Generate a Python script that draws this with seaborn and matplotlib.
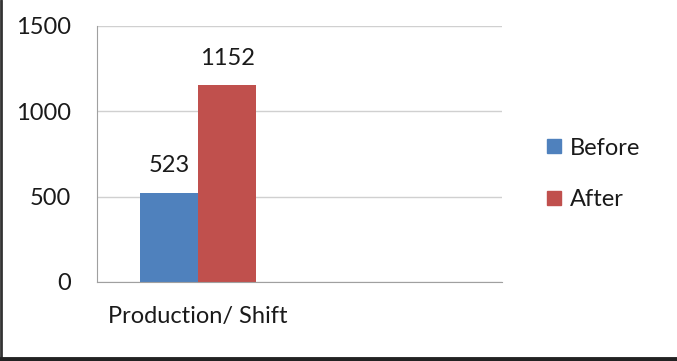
import matplotlib
matplotlib.use("Agg")
import matplotlib.pyplot as plt
import seaborn as sns
import pandas as pd
from matplotlib.lines import Line2D

categories = ["Production/ Shift", ""]
series = ["Before", "After"]
before_values = [523, None]
after_values = [1152, None]
colors = ["#4F81BD", "#C0504D"]
yticks = [0, 500, 1000, 1500]

rows = []
for c, b, a in zip(categories, before_values, after_values):
    rows.append({"cat": c, "series": "Before", "val": b if b is not None else 0})
    rows.append({"cat": c, "series": "After", "val": a if a is not None else 0})
df = pd.DataFrame(rows)

sns.set_style("white")
plt.rcParams['font.family'] = ['Lato', 'DejaVu Sans']

FS = 17
TXT = '#1a1a1a'

fig = plt.figure(figsize=(6.77, 3.61), dpi=100)
ax = fig.add_axes([97/677, 1 - 282/361, (502-97)/677, (282-26)/361])

sns.barplot(data=df, x="cat", y="val", hue="series", hue_order=series,
            palette=colors, width=0.575, ax=ax, legend=False, saturation=1,
            linewidth=0, edgecolor='none')

ax.set_xlim(-0.5, 1.5)
ax.set_ylim(0, 1500)
ax.set_yticks(yticks)
ax.set_yticklabels([str(t) for t in yticks], fontsize=FS, color=TXT)
ax.set_xticks([0])
ax.set_xticklabels([categories[0]], fontsize=FS, color=TXT)
ax.set_xticks([-0.5, 0.5, 1.5], minor=True)
ax.tick_params(axis='x', which='major', length=0, pad=17)
ax.tick_params(axis='x', which='minor', length=6, color='#A0A0A0', width=1)
ax.tick_params(axis='y', length=6, color='#A0A0A0', width=1, pad=13)
ax.set_xlabel("")
ax.set_ylabel("")
ax.yaxis.grid(True, color='#D0D0D0', linewidth=1)
ax.set_axisbelow(True)
for s in ["top", "right"]:
    ax.spines[s].set_visible(False)
ax.spines["left"].set_color('#A0A0A0')
ax.spines["bottom"].set_color('#A0A0A0')

for cont in ax.containers:
    for bar in cont:
        h = bar.get_height()
        if h > 0:
            ax.annotate(f"{int(h)}", (bar.get_x() + bar.get_width()/2, h),
                        xytext=(0, 12), textcoords="offset points",
                        ha="center", va="bottom", fontsize=FS, color=TXT)

handles = [Line2D([0], [0], marker='s', linestyle='', markersize=10,
                  markerfacecolor=c, markeredgecolor=c) for c in colors]
fig.legend(handles, series, loc='center left', bbox_to_anchor=(530/677, 1 - 174/361),
           frameon=False, fontsize=FS, labelspacing=1.3, handletextpad=0.1,
           handlelength=1.2, borderaxespad=0, labelcolor=TXT)

# figure border (left and bottom)
fig.add_artist(Line2D([0.002, 0.002], [0, 1], transform=fig.transFigure, color='#333333', linewidth=2))
fig.add_artist(Line2D([0, 1], [0.006, 0.006], transform=fig.transFigure, color='#222222', linewidth=3.5))

fig.savefig("out.png", dpi=100)
